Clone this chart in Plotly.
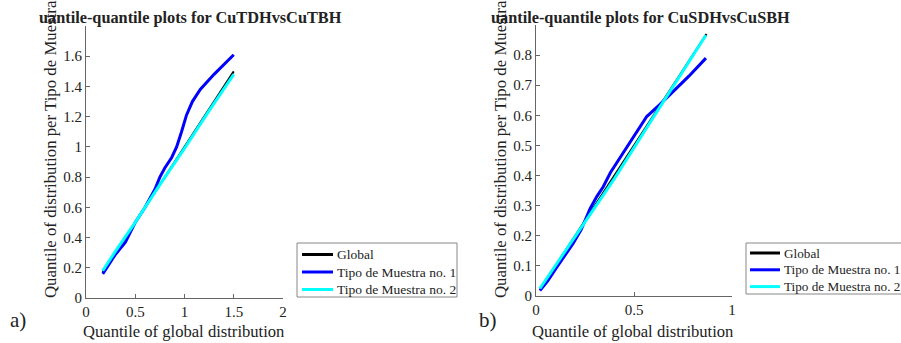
import plotly.graph_objects as go

# ---- data: left panel (CuTDH vs CuTBH) ----
a_global_x = [0.17, 0.3, 0.5, 0.75, 1.0, 1.25, 1.5]
a_global_y = [0.17, 0.3, 0.5, 0.75, 1.0, 1.25, 1.5]
a_t1_x = [0.17, 0.25, 0.3, 0.4, 0.45, 0.5, 0.6, 0.7, 0.75, 0.8, 0.87, 0.92, 0.97, 1.02, 1.08, 1.16, 1.3, 1.5]
a_t1_y = [0.16, 0.24, 0.29, 0.37, 0.44, 0.5, 0.6, 0.72, 0.8, 0.86, 0.93, 1.0, 1.1, 1.21, 1.3, 1.38, 1.48, 1.61]
a_t2_x = [0.17, 0.3, 0.5, 0.75, 1.0, 1.25, 1.5]
a_t2_y = [0.18, 0.31, 0.5, 0.75, 0.99, 1.24, 1.48]

# ---- data: right panel (CuSDH vs CuSBH) ----
b_global_x = [0.02, 0.2, 0.4, 0.6, 0.87]
b_global_y = [0.02, 0.2, 0.4, 0.6, 0.87]
b_t1_x = [0.02, 0.06, 0.1, 0.15, 0.19, 0.23, 0.276, 0.31, 0.343, 0.38, 0.42, 0.463, 0.51, 0.565, 0.63, 0.7, 0.78, 0.867]
b_t1_y = [0.018, 0.05, 0.09, 0.135, 0.175, 0.22, 0.29, 0.33, 0.363, 0.41, 0.45, 0.496, 0.54, 0.596, 0.635, 0.68, 0.73, 0.79]
b_t2_x = [0.02, 0.2, 0.4, 0.6, 0.867]
b_t2_y = [0.025, 0.2, 0.39, 0.595, 0.866]

a_xticks = [0, 0.5, 1, 1.5, 2]
a_xtext = ["0", "0.5", "1", "1.5", "2"]
a_yticks = [0, 0.2, 0.4, 0.6, 0.8, 1.0, 1.2, 1.4, 1.6]
a_ytext = ["0", "0.2", "0.4", "0.6", "0.8", "1", "1.2", "1.4", "1.6"]
b_xticks = [0, 0.5, 1]
b_xtext = ["0", "0.5", "1"]
b_yticks = [0, 0.1, 0.2, 0.3, 0.4, 0.5, 0.6, 0.7, 0.8]
b_ytext = ["0", "0.1", "0.2", "0.3", "0.4", "0.5", "0.6", "0.7", "0.8"]

names = ["Global", "Tipo de Muestra no. 1", "Tipo de Muestra no. 2"]
colors = ["#000000", "#0000ff", "#00ffff"]
widths = [2, 3, 3]

W, H = 901, 343
FONT = "Liberation Serif"
TXT = "#222222"

fig = go.Figure()

panels = [
    ("x", "y", [(a_global_x, a_global_y), (a_t1_x, a_t1_y), (a_t2_x, a_t2_y)]),
    ("x2", "y2", [(b_global_x, b_global_y), (b_t1_x, b_t1_y), (b_t2_x, b_t2_y)]),
]
for xa, ya, series in panels:
    for (sx, sy), nm, c, w in zip(series, names, colors, widths):
        fig.add_trace(go.Scatter(x=sx, y=sy, mode="lines", name=nm,
                                 line=dict(color=c, width=w),
                                 xaxis=xa, yaxis=ya, showlegend=False))


def px_x(p):
    return p / W


def px_y(p):
    return 1 - p / H


axis_common = dict(showline=True, linecolor="#666", linewidth=1, ticks="inside",
                   ticklen=4, tickcolor="#666", showgrid=False, zeroline=False,
                   tickfont=dict(family=FONT, size=15, color=TXT), mirror=False)

fig.update_layout(
    width=W, height=H,
    margin=dict(l=0, r=0, t=0, b=0, autoexpand=False),
    paper_bgcolor="white", plot_bgcolor="white",
    font=dict(family=FONT, color=TXT),
    xaxis=dict(domain=[px_x(86), px_x(283)], range=[0, 2], tickvals=a_xticks,
               ticktext=a_xtext, anchor="y", **axis_common),
    yaxis=dict(domain=[px_y(298), px_y(26)], range=[0, 1.8], tickvals=a_yticks,
               ticktext=a_ytext, anchor="x", **axis_common),
    xaxis2=dict(domain=[px_x(536), px_x(732)], range=[0, 1], tickvals=b_xticks,
                ticktext=b_xtext, anchor="y2", **axis_common),
    yaxis2=dict(domain=[px_y(296), px_y(25)], range=[0, 0.9], tickvals=b_yticks,
                ticktext=b_ytext, anchor="x2", **axis_common),
    showlegend=False,
)

shapes = []
ann = []

# legend boxes: (left, top, right, bottom, sample x0, sample x1, first row y, row step, font size)
legend_boxes = [
    (297, 243, 457, 297, 302, 333, 254.5, 17.5, 13.5),
    (746, 243, 905, 294, 750, 780, 253, 16.8, 13.2),
]
for (l, t, r, b, s0, s1, r0, step, fs) in legend_boxes:
    shapes.append(dict(type="rect", xref="paper", yref="paper",
                       x0=px_x(l), x1=px_x(r), y0=px_y(b), y1=px_y(t),
                       line=dict(color="#888", width=1), fillcolor="white", layer="above"))
    for i, (nm, c) in enumerate(zip(names, colors)):
        yy = r0 + i * step
        shapes.append(dict(type="line", xref="paper", yref="paper",
                           x0=px_x(s0), x1=px_x(s1), y0=px_y(yy), y1=px_y(yy),
                           line=dict(color=c, width=3), layer="above"))
        ann.append(dict(text=nm, x=px_x(s1 + 1.5), y=px_y(yy), xanchor="left",
                        yanchor="middle", font=dict(size=fs)))

# panel titles
ann.append(dict(text="<b>uantile-quantile plots for CuTDHvsCuTBH</b>", x=px_x(37), y=px_y(17),
                xanchor="left", yanchor="middle", font=dict(size=16.3)))
ann.append(dict(text="<b>uantile-quantile plots for CuSDHvsCuSBH</b>", x=px_x(489), y=px_y(17),
                xanchor="left", yanchor="middle", font=dict(size=16.3)))
# axis titles
for cx in (50, 500):
    ann.append(dict(text="Quantile of distribution per Tipo de Muestra", x=px_x(cx), y=px_y(149),
                    xanchor="center", yanchor="middle", textangle=-90, font=dict(size=16.8)))
ann.append(dict(text="Quantile of global distribution", x=px_x(184), y=px_y(331),
                xanchor="center", yanchor="middle", font=dict(size=16.6)))
ann.append(dict(text="Quantile of global distribution", x=px_x(633), y=px_y(331),
                xanchor="center", yanchor="middle", font=dict(size=16.6)))
# panel letters
ann.append(dict(text="a)", x=px_x(8), y=px_y(320), xanchor="left", yanchor="middle", font=dict(size=21)))
ann.append(dict(text="b)", x=px_x(477), y=px_y(320), xanchor="left", yanchor="middle", font=dict(size=21)))

for a in ann:
    a.update(xref="paper", yref="paper", showarrow=False)
    a["font"].update(family=FONT, color=TXT)
fig.update_layout(annotations=ann, shapes=shapes)

fig.write_html("out.html")
